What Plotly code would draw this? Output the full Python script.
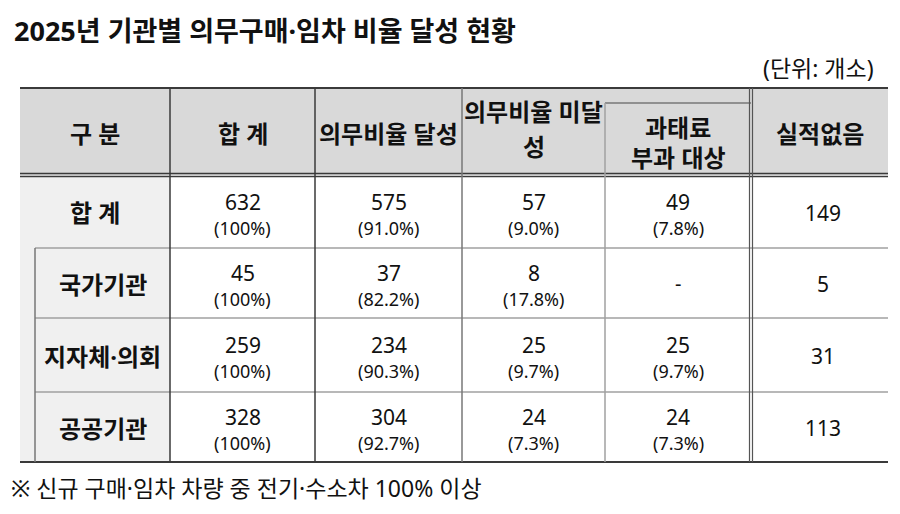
import plotly.graph_objects as go

title = "2025년 기관별 의무구매·임차 비율 달성 현황"
unit_note = "(단위: 개소)"
footnote = "※ 신규 구매·임차 차량 중 전기·수소차 100% 이상"

headers = ["구 분", "합 계", "의무비율 달성", "의무비율 미달<br>성", "과태료<br>부과 대상", "실적없음"]
rows = ["합 계", "국가기관", "지자체·의회", "공공기관"]

total = [632, 45, 259, 328]
total_pct = ["100%", "100%", "100%", "100%"]
achieved = [575, 37, 234, 304]
achieved_pct = ["91.0%", "82.2%", "90.3%", "92.7%"]
missed = [57, 8, 25, 24]
missed_pct = ["9.0%", "17.8%", "9.7%", "7.3%"]
fined = [49, None, 25, 24]
fined_pct = ["7.8%", None, "9.7%", "7.3%"]
no_record = [149, 5, 31, 113]

# layout grid (pixels of the page)
col_x = [20, 170, 315, 462, 605, 751, 888]
row_y = [88, 175, 248, 318, 392, 462]
sub_x = 35

FONT = "Noto Sans, Noto Sans CJK KR"
DARK = "#3a3a3a"
GRAY = "#a0a0a0"
PAGE_PAD = 8  # default body margin of the html page

fig = go.Figure()
shapes = []
ann = []


def line(x0, y0, x1, y1, color=DARK, width=1.5):
    shapes.append(dict(type="line", xref="x", yref="y", x0=x0, y0=y0, x1=x1, y1=y1,
                       line=dict(color=color, width=width)))


def text(x, y, s, size=19, bold=False, anchor="center", xshift=0):
    ann.append(dict(x=x, y=y, xref="x", yref="y", text=f"<b>{s}</b>" if bold else s,
                    showarrow=False, xanchor=anchor, yanchor="middle", xshift=xshift,
                    font=dict(family=FONT, size=size, color="#111")))


# fills
shapes.append(dict(type="rect", xref="x", yref="y", x0=col_x[0], x1=col_x[-1], y0=row_y[0], y1=row_y[1],
                   fillcolor="#d9d9d9", line=dict(width=0), layer="below"))
shapes.append(dict(type="rect", xref="x", yref="y", x0=col_x[0], x1=col_x[1], y0=row_y[1], y1=row_y[-1],
                   fillcolor="#f0f0f0", line=dict(width=0), layer="below"))

# horizontal lines
line(col_x[0], row_y[0], col_x[-1], row_y[0], width=2)
line(col_x[0], row_y[1] - 1.5, col_x[-1], row_y[1] - 1.5, width=1.5)
line(col_x[0], row_y[1] + 1.5, col_x[-1], row_y[1] + 1.5, width=1.5)
for y in row_y[2:-1]:
    line(sub_x, y, col_x[-1], y, color=GRAY, width=1.5)
line(col_x[0], row_y[-1], col_x[-1], row_y[-1], width=2)
line(col_x[4], 103, col_x[5], 103, color="#777", width=1.5)

# vertical lines
line(col_x[1], row_y[0], col_x[1], row_y[-1])
line(col_x[2], row_y[0], col_x[2], row_y[-1])
line(col_x[3], row_y[0], col_x[3], row_y[-1], color="#777")
line(col_x[4], 103, col_x[4], row_y[-1], color=GRAY)
line(col_x[5] - 1.5, row_y[0], col_x[5] - 1.5, row_y[-1], color="#555", width=1.2)
line(col_x[5] + 1.5, row_y[0], col_x[5] + 1.5, row_y[-1], color="#555", width=1.2)
line(sub_x, row_y[2], sub_x, row_y[-1], color="#777")

# header text, one annotation per line
header_line_y = {3: [111, 146], 4: [127, 157]}
for i, h in enumerate(headers):
    cx = (col_x[i] + col_x[i + 1]) / 2
    parts = h.split("<br>")
    ys = header_line_y.get(i, [133])
    for part, y in zip(parts, ys):
        text(cx, y, part, size=24, bold=True)

# body
cols = [(total, total_pct), (achieved, achieved_pct), (missed, missed_pct), (fined, fined_pct)]
for r, name in enumerate(rows):
    cy = (row_y[r + 1] + row_y[r + 2]) / 2
    lx = (col_x[0] + col_x[1]) / 2 if r == 0 else (sub_x + col_x[1]) / 2
    text(lx, cy + 1, name, size=24, bold=True)
    for c, (vals, pcts) in enumerate(cols):
        cx = (col_x[c + 1] + col_x[c + 2]) / 2
        if vals[r] is None:
            text(cx, cy, "-", size=20)
        else:
            text(cx, cy - 10, str(vals[r]), size=21)
            text(cx, cy + 16, f"({pcts[r]})", size=18)
    text((col_x[5] + col_x[6]) / 2 + 3, cy + 1, str(no_record[r]), size=21)

# title, unit and note
text(PAGE_PAD, 30, title, size=27, bold=True, anchor="left", xshift=4)
text(876, 68, unit_note, size=23, anchor="right")
text(PAGE_PAD, 488, footnote, size=23, anchor="left", xshift=1)

fig.update_layout(
    width=900 - 2 * PAGE_PAD, height=514 - 2 * PAGE_PAD,
    margin=dict(l=0, r=0, t=0, b=0),
    paper_bgcolor="white", plot_bgcolor="white",
    xaxis=dict(range=[PAGE_PAD, 900 - PAGE_PAD], visible=False, fixedrange=True),
    yaxis=dict(range=[514 - PAGE_PAD, PAGE_PAD], visible=False, fixedrange=True),
    shapes=shapes, annotations=ann, showlegend=False,
)

fig.write_html("out.html")
